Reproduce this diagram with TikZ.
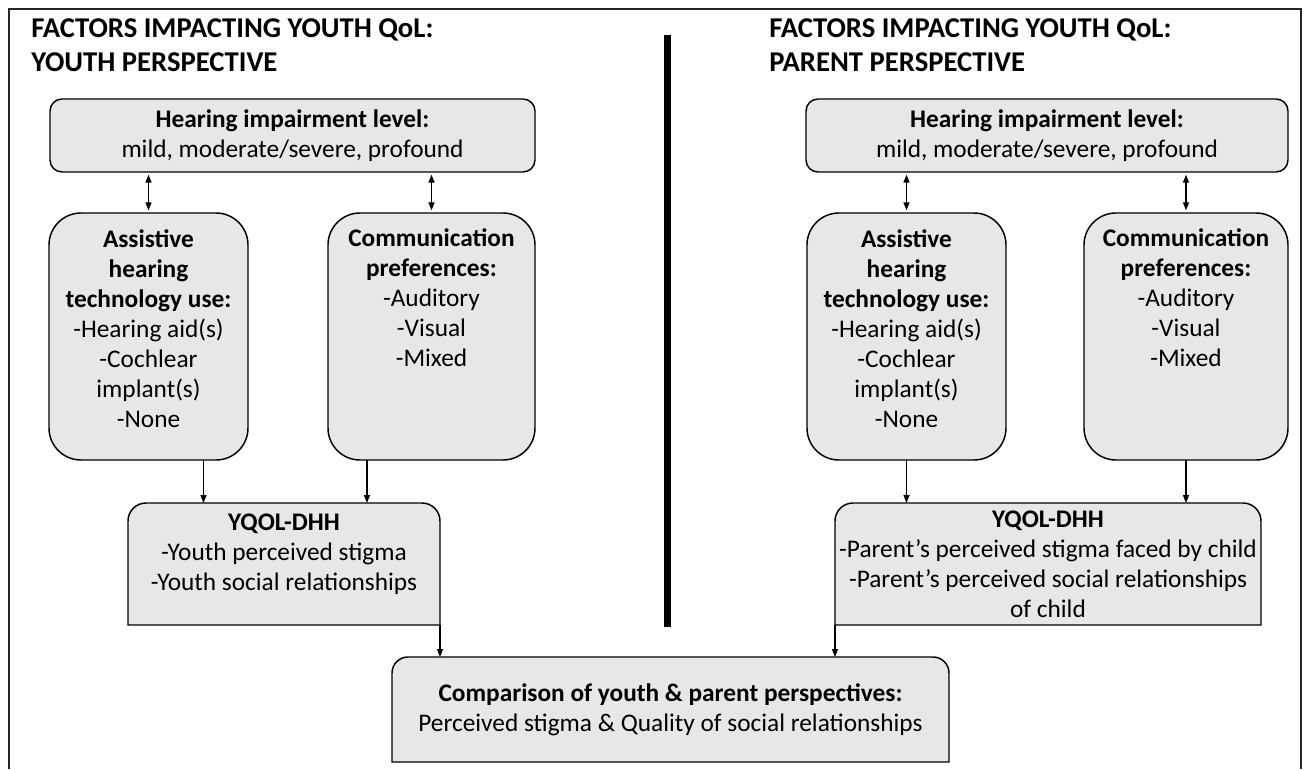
\documentclass[tikz,border=0pt]{standalone}
\usepackage{fontspec}
\setmainfont{Carlito}
\usetikzlibrary{arrows.meta,backgrounds,calc}
\definecolor{boxfill}{RGB}{231,231,231}
\newcommand\TopRoundBox[2]{\filldraw[box] (#1.south west) -- ([yshift=-#2]#1.north west) arc[start angle=180,end angle=90,radius=#2] -- ([xshift=-#2]#1.north east) arc[start angle=90,end angle=0,radius=#2] -- (#1.south east) -- cycle;}
\begin{document}
\begin{tikzpicture}[x=0.75pt,y=0.75pt,
  box/.style={draw=black, line width=1.1pt, fill=boxfill, inner sep=0pt, outer sep=0pt},
  holder/.style={inner sep=0pt, outer sep=0pt},
  rbox/.style={box, rounded corners=9pt},
  tallbox/.style={box, rounded corners=24pt},
  txt/.style={align=center, font=\fontsize{19}{22.5}\selectfont, inner sep=0pt},
  ttl/.style={align=left, anchor=west, font=\fontsize{21.5}{25.5}\selectfont\bfseries, inner sep=0pt},
  arr/.style={-{Triangle[length=6pt,width=4.5pt]}, line width=1pt},
  dbl/.style={{Triangle[length=6pt,width=4.5pt]}-{Triangle[length=6pt,width=4.5pt]}, line width=1pt, shorten >=2pt, shorten <=2pt}]
\useasboundingbox (0,0) rectangle (1304,769);
% frame and divider
\draw[line width=1.4pt, black!85] (9,0) -- (9,760) -- (1301,760) -- (1301,0);
\draw[line width=5.25pt] (667,734) -- (667,142);
% titles
\node[ttl] (tl) at (31,724) {FACTORS IMPACTING YOUTH QoL:\\YOUTH PERSPECTIVE};
\node[ttl] (tr) at (769,724) {FACTORS IMPACTING YOUTH QoL:\\PARENT PERSPECTIVE};
% left panel
\node[rbox, txt, minimum width=363.75pt, minimum height=54.75pt] (hear1) at (292.5,633.5) {\textbf{Hearing impairment level:}\\mild, moderate/severe, profound};
\node[tallbox, minimum width=149.25pt, minimum height=185.25pt] (assist1) at (148.5,432.5) {};
\node[txt] (assist1t) at (148.5,440) {\textbf{Assistive}\\\textbf{hearing}\\\textbf{technology use:}\\-Hearing aid(s)\\-Cochlear\\implant(s)\\-None};
\node[tallbox, minimum width=155.25pt, minimum height=185.25pt] (comm1) at (431.5,432.5) {};
\node[txt] (comm1t) at (431.5,471) {\textbf{Communication}\\\textbf{preferences:}\\-Auditory\\-Visual\\-Mixed};
\node[holder, minimum width=234pt, minimum height=91.5pt] (yqol1) at (284,205) {};
\node[txt] (yqol1t) at (284,215) {\textbf{YQOL-DHH}\\-Youth perceived stigma\\-Youth social relationships};
% right panel
\node[rbox, txt, minimum width=361.5pt, minimum height=54.75pt] (hear2) at (1047,633.5) {\textbf{Hearing impairment level:}\\mild, moderate/severe, profound};
\node[tallbox, minimum width=149.25pt, minimum height=185.25pt] (assist2) at (906.5,432.5) {};
\node[txt] (assist2t) at (906.5,440) {\textbf{Assistive}\\\textbf{hearing}\\\textbf{technology use:}\\-Hearing aid(s)\\-Cochlear\\implant(s)\\-None};
\node[tallbox, minimum width=153pt, minimum height=185.25pt] (comm2) at (1186,432.5) {};
\node[txt] (comm2t) at (1186,471) {\textbf{Communication}\\\textbf{preferences:}\\-Auditory\\-Visual\\-Mixed};
\node[holder, txt, minimum width=319.5pt, minimum height=91.5pt] (yqol2) at (1048,205) {\textbf{YQOL-DHH}\\-Parent’s perceived stigma faced by child\\-Parent’s perceived social relationships\\of child};
% comparison
\node[holder, txt, minimum width=417.75pt, minimum height=78.75pt] (comp) at (670.5,59.5) {\textbf{Comparison of youth \& parent perspectives:}\\Perceived stigma \& Quality of social relationships};
\begin{scope}[on background layer]
\TopRoundBox{yqol1}{13.5pt}
\TopRoundBox{yqol2}{13.5pt}
\TopRoundBox{comp}{12pt}
\end{scope}
% connectors
\draw[dbl] (assist1.north |- hear1.south) -- (assist1.north);
\draw[dbl] (comm1.north |- hear1.south) -- (comm1.north);
\draw[dbl] (assist2.north |- hear2.south) -- (assist2.north);
\draw[dbl] (comm2.north |- hear2.south) -- (comm2.north);
\coordinate (a1) at ([xshift=41.25pt]assist1.south);
\coordinate (c1) at ([xshift=-48.4pt]comm1.south);
\draw[arr] (a1) -- (a1 |- yqol1.north);
\draw[arr] (c1) -- (c1 |- yqol1.north);
\draw[arr] (assist2.south) -- (assist2.south |- yqol2.north);
\draw[arr] (comm2.south) -- (comm2.south |- yqol2.north);
\draw[arr] (yqol1.south east) -- (yqol1.south east |- comp.north);
\draw[arr] (yqol2.south west) -- (yqol2.south west |- comp.north);
\end{tikzpicture}
\end{document}
